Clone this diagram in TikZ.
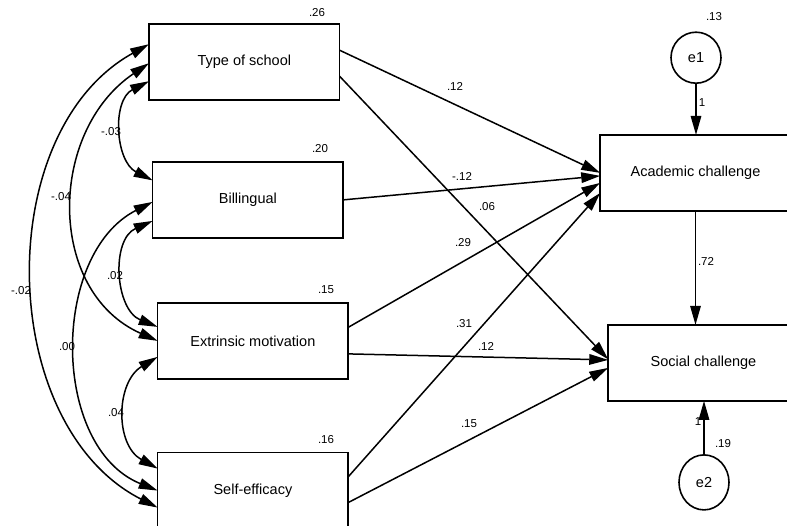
\documentclass[tikz,border=0pt]{standalone}
\usepackage{fontspec}
\setmainfont{Liberation Sans}
\usepackage{tikz}
\usetikzlibrary{arrows.meta, positioning, shapes.geometric}
\tikzstyle{block} = [rectangle, draw, line width=1.6pt, outer sep=0pt,
    minimum width=190.5pt, minimum height=76pt, inner sep=0pt,
    font=\fontsize{14.5}{17}\selectfont]
\tikzstyle{err} = [ellipse, draw, line width=1.6pt, outer sep=0pt,
    minimum width=50pt, minimum height=51pt, inner sep=0pt,
    font=\fontsize{14.5}{17}\selectfont]
\tikzstyle{num} = [inner sep=0pt, font=\fontsize{11.5}{13}\selectfont]
\tikzstyle{line} = [draw, line width=1.5pt, -{Triangle[length=19pt,width=10.5pt]}]
\tikzstyle{cov} = [draw, line width=1.5pt,
    {Triangle[length=19pt,width=10.5pt]}-{Triangle[length=19pt,width=10.5pt]}]

\begin{document}
\begin{tikzpicture}[x=1pt, y=1pt]
        \useasboundingbox (0,0) rectangle (787,526);
        % Place nodes
        \node [block] (school) at (244.3,463.8) {Type of school};
        \node [block] (biling) [below=61.7pt of school, xshift=3.6pt] {Billingual};
        \node [block] (extrin) [below=65pt of biling, xshift=5pt] {Extrinsic motivation};
        \node [block] (selfeff) [below=73.7pt of extrin] {Self-efficacy};
        \node [block] (acad) at (695.5,353.1) {Academic challenge};
        \node [block] (social) [below=114pt of acad, xshift=8pt] {Social challenge};
        \node [err] (e1) [above=51.7pt of acad, xshift=0.5pt] {e1};
        \node [err, minimum height=55pt] (e2) [below=54pt of social, xshift=0.5pt] {e2};
        % Draw edges
        \path [line] ([yshift=12pt]school.east) -- (acad.west);
        \path [line] ([yshift=-14pt]school.east) -- ([yshift=3.5pt]social.west);
        \path [line] (biling.east) -- ([yshift=-3pt]acad.west);
        \path [line] ([yshift=13.5pt]extrin.east) -- ([yshift=-10pt]acad.west);
        \path [line] ([yshift=-13pt]extrin.east) -- ([yshift=3pt]social.west);
        \path [line] ([yshift=13.7pt]selfeff.east) -- ([yshift=-20pt]acad.west);
        \path [line] ([yshift=-12pt]selfeff.east) -- ([yshift=-5pt]social.west);
        \path [line] (acad.south) -- (acad.south |- social.north);
        \path [line] (e1) -- (e1 |- acad.north);
        \path [line] (e2) -- (e2 |- social.south);
        % Covariances
        \path [cov] ([yshift=-19pt]school.west) to [out=207, in=153, distance=42pt] ([yshift=19.5pt]biling.west);
        \path [cov] ([yshift=-1pt]school.west) to [out=214, in=156, distance=122pt] (extrin.west);
        \path [cov] ([yshift=18pt]school.west) to [out=209, in=153, distance=181pt] ([yshift=-17pt]selfeff.west);
        \path [cov] ([yshift=-21pt]biling.west) to [out=204, in=158, distance=46pt] ([yshift=14pt]extrin.west);
        \path [cov] ([yshift=-2pt]biling.west) to [out=207, in=158, distance=115pt] (selfeff.west);
        \path [cov] ([yshift=-16pt]extrin.west) to [out=211, in=151, distance=49pt] ([yshift=22pt]selfeff.west);
        % Estimates
        \node [num] (vschool) at (317,513) {.26};
        \node [num] (vbiling) at (320,377) {.20};
        \node [num] (vextrin) at (326,236) {.15};
        \node [num] (vself) at (326,86) {.16};
        \node [num] (ve1) at (714,509) {.13};
        \node [num] (ve2) at (723,82) {.19};
        \node [num] (cov1) at (111,394) {-.03};
        \node [num] (cov2) at (61,329) {-.04};
        \node [num] (cov3) at (21,235) {-.02};
        \node [num] (cov4) at (115,250) {.02};
        \node [num] (cov5) at (67,179) {.00};
        \node [num] (cov6) at (116,113) {.04};
        \node [num] (w1) at (455,440) {.12};
        \node [num] (w2) at (462,350) {-.12};
        \node [num] (w3) at (487,319) {.06};
        \node [num] (w4) at (463,283) {.29};
        \node [num] (w5) at (464,202) {.31};
        \node [num] (w6) at (486,180) {.12};
        \node [num] (w7) at (469,102) {.15};
        \node [num] (w8) at (706,265) {.72};
        \node [num] (one1) at (702,423) {1};
        \node [num] (one2) at (698,104) {1};
    \end{tikzpicture}
\end{document}
